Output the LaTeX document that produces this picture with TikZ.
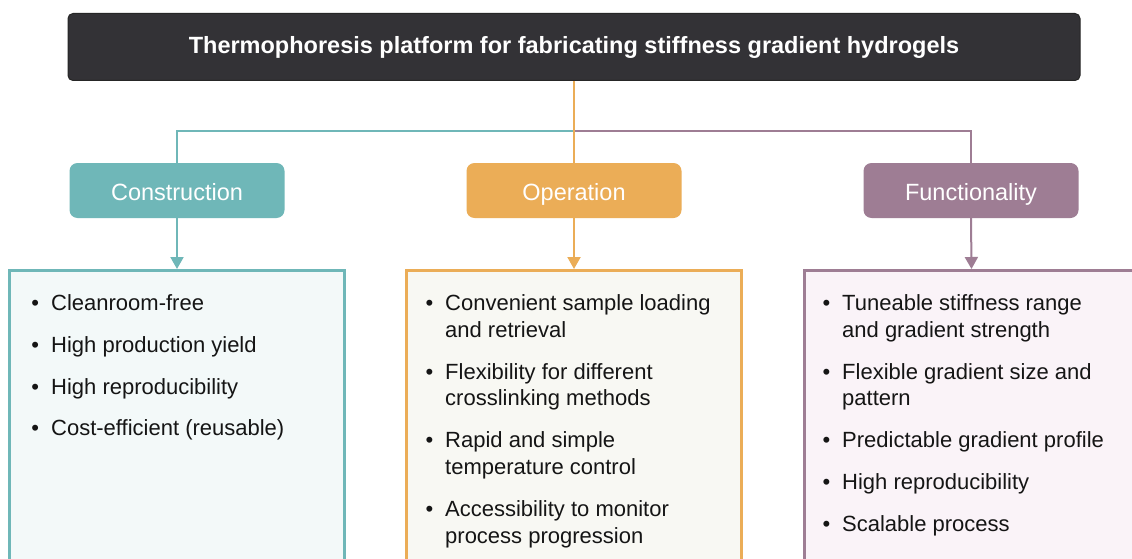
\documentclass[tikz,border=0pt]{standalone}
\usepackage{fontspec}
\setmainfont{Liberation Sans}
\usetikzlibrary{arrows.meta}
\definecolor{titlefill}{HTML}{333236}
\definecolor{tealc}{HTML}{6FB7B8}
\definecolor{orangec}{HTML}{EBAD57}
\definecolor{purplec}{HTML}{9E7D94}
\definecolor{tealbg}{HTML}{F3F9F9}
\definecolor{orangebg}{HTML}{F8F8F3}
\definecolor{purplebg}{HTML}{FAF3F8}
\definecolor{txt}{HTML}{151515}
\tikzset{
  titlebox/.style={draw=black!85, line width=1pt, fill=titlefill, rounded corners=5pt,
    minimum width=1012pt, minimum height=67pt, inner sep=0pt, text=white,
    text height=14pt, text depth=0pt,
    font=\fontsize{23.5}{28}\selectfont\bfseries},
  catbox/.style={fill=#1, rounded corners=8pt, minimum width=215pt, minimum height=55pt,
    inner sep=0pt, text=white, text height=19pt, text depth=0pt,
    font=\fontsize{23.5}{28}\selectfont},
  listbox/.style={draw=#1, line width=3pt, minimum width=335pt, minimum height=340pt,
    anchor=north, inner sep=0pt},
  conn/.style={draw=#1, line width=2pt},
  arr/.style={draw=#1, line width=2pt, -{Triangle[length=12pt,width=13pt,fill=#1]}},
  itemline/.style={anchor=base west, inner sep=0pt, text=txt,
    font=\fontsize{22}{26.5}\selectfont}
}
\newcommand{\bul}{\llap{\textbullet\hspace{12pt}}}
\begin{document}
\begin{tikzpicture}[x=1pt,y=-1pt]
\useasboundingbox (0,0) rectangle (1132,559);
\fill[white] (0,0) rectangle (1132,559);

% title
\node[titlebox] (title) at (574,47) {Thermophoresis platform for fabricating stiffness gradient hydrogels};

% categories
\node[catbox=tealc] (con) at (177,190.5) {Construction};
\node[catbox=orangec] (op) at (574,190.5) {Operation};
\node[catbox=purplec] (fun) at (971,190.5) {Functionality};

% content boxes
\node[listbox=tealc, fill=tealbg] (cb) at (177,269) {};
\node[listbox=orangec, fill=orangebg] (ob) at (574,269) {};
\node[listbox=purplec, fill=purplebg] (fb) at (971.5,269) {};

% branch connectors
\coordinate (j) at (574,131);
\draw[conn=tealc] (con.north) |- (j);
\draw[conn=purplec] (fun.north) |- (j);
\draw[conn=orangec] (title.south) -- (op.north);

% arrows
\draw[arr=tealc] (con.south) -- (cb.north);
\draw[arr=orangec] (op.south) -- (ob.north);
\draw[arr=purplec] (fun.south) -- (fb.north);

% construction items
\node[itemline] (c1) at (51,310.5) {\bul Cleanroom-free};
\node[itemline] (c2) at (51,352.3) {\bul High production yield};
\node[itemline] (c3) at (51,394.1) {\bul High reproducibility};
\node[itemline] (c4) at (51,435.9) {\bul Cost-efficient (reusable)};

% operation items
\node[itemline] (o1a) at (445,310.5) {\bul Convenient sample loading};
\node[itemline] (o1b) at (445,337) {and retrieval};
\node[itemline] (o2a) at (445,379.2) {\bul Flexibility for different};
\node[itemline] (o2b) at (445,405.7) {crosslinking methods};
\node[itemline] (o3a) at (445,447.9) {\bul Rapid and simple};
\node[itemline] (o3b) at (445,474.4) {temperature control};
\node[itemline] (o4a) at (445,516.6) {\bul Accessibility to monitor};
\node[itemline] (o4b) at (445,543.1) {process progression};

% functionality items
\node[itemline] (f1a) at (842,310.5) {\bul Tuneable stiffness range};
\node[itemline] (f1b) at (842,337) {and gradient strength};
\node[itemline] (f2a) at (842,379.2) {\bul Flexible gradient size and};
\node[itemline] (f2b) at (842,405.7) {pattern};
\node[itemline] (f3) at (842,447.9) {\bul Predictable gradient profile};
\node[itemline] (f4) at (842,489.7) {\bul High reproducibility};
\node[itemline] (f5) at (842,531.5) {\bul Scalable process};
\end{tikzpicture}
\end{document}
